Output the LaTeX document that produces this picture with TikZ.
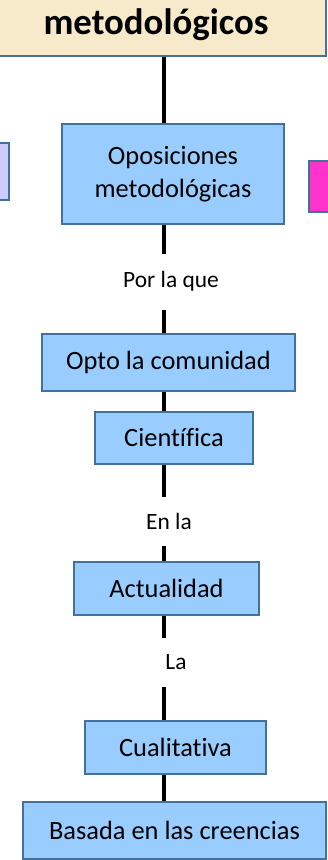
\documentclass[tikz,border=0pt]{standalone}
\usepackage{fontspec}
\setmainfont{Carlito}[Ligatures=NoCommon]
\usepackage{tikz}

\definecolor{bordeazul}{HTML}{41719C}
\definecolor{celeste}{HTML}{99CCFF}
\definecolor{pergamino}{HTML}{F6EACB}
\definecolor{lavanda}{HTML}{CCCCFF}
\definecolor{fucsia}{HTML}{FF33CC}

\tikzset{
  caja/.style={draw=bordeazul, fill=celeste, line width=1.6pt, inner sep=0pt, align=center,
    font=\fontsize{26.4}{33}\selectfont},
  rotulo/.style={inner sep=0pt, font=\fontsize{23.4}{28}\selectfont},
  enlace/.style={line width=3.5pt}
}

\begin{document}
\begin{tikzpicture}[x=1pt,y=-1pt,line width=1pt]
\useasboundingbox (0,0) rectangle (327,860);
\coordinate (eje) at (164,0);

\node[caja, fill=pergamino, minimum width=340pt, minimum height=62pt,
  font=\fontsize{36.8}{40}\selectfont\bfseries] (titulo) at (156,25) {metodológicos};

\node[caja, fill=lavanda, minimum width=15pt, minimum height=57pt] (izq) at (1.5,171.5) {};
\node[caja, fill=fucsia, minimum width=27pt, minimum height=51pt] (der) at (322.5,186.5) {};

\node[caja, minimum width=222pt, minimum height=100pt] (opos) at (173,174) {Oposiciones\\metodológicas};
\node[rotulo, minimum height=55pt] (porque) at (171,281.5) {Por la que};
\node[caja, minimum width=253pt, minimum height=57pt] (opto) at (168.5,362.5) {Opto la comunidad};
\node[caja, minimum width=158pt, minimum height=52pt] (cient) at (174,438) {Científica};
\node[rotulo, minimum height=48pt] (enla) at (169,521) {En la};
\node[caja, minimum width=185pt, minimum height=53pt] (actual) at (166.5,588.5) {Actualidad};
\node[rotulo, minimum height=48pt] (la) at (176,662) {La};
\node[caja, minimum width=181pt, minimum height=53pt] (cual) at (175.5,747.5) {Cualitativa};
\node[caja, minimum width=303pt, minimum height=57pt] (basada) at (174.5,830.5) {Basada en las creencias};

\draw[enlace] (titulo.south -| eje) -- (opos.north -| eje);
\draw[enlace] (opos.south -| eje) -- (porque.north -| eje);
\draw[enlace] (porque.south -| eje) -- (opto.north -| eje);
\draw[enlace] (opto.south -| eje) -- (cient.north -| eje);
\draw[enlace] (cient.south -| eje) -- (enla.north -| eje);
\draw[enlace] (enla.south -| eje) -- (actual.north -| eje);
\draw[enlace] (actual.south -| eje) -- (la.north -| eje);
\draw[enlace] (la.south -| eje) -- (cual.north -| eje);
\draw[enlace] (cual.south -| eje) -- (basada.north -| eje);
\end{tikzpicture}
\end{document}
